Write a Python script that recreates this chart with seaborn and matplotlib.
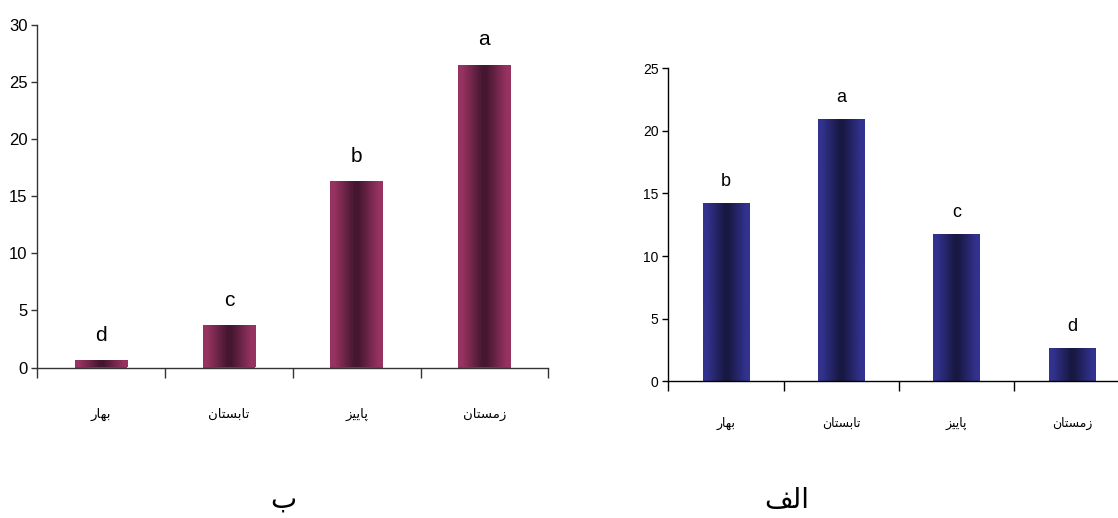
import numpy as np
import pandas as pd
import matplotlib
matplotlib.use("Agg")
import matplotlib.pyplot as plt
from matplotlib.colors import LinearSegmentedColormap
import seaborn as sns

# ---------------- data ----------------
seasons = ["بهار", "تابستان", "پاییز", "زمستان"]
values_b = [0.65, 3.72, 16.33, 26.5]      # left panel (ب)
letters_b = ["d", "c", "b", "a"]
values_alef = [14.23, 20.94, 11.76, 2.65]  # right panel (الف)
letters_alef = ["b", "a", "c", "d"]
panel_labels = ["ب", "الف"]
yticks_b = [0, 5, 10, 15, 20, 25, 30]
yticks_alef = [0, 5, 10, 15, 20, 25]

# ---------------- minimal Arabic/Persian shaping ----------------
FORMS = {
    'ا': ('\uFE8D', '\uFE8E', None, None),
    'ب': ('\uFE8F', '\uFE90', '\uFE91', '\uFE92'),
    'پ': ('\uFB56', '\uFB57', '\uFB58', '\uFB59'),
    'ت': ('\uFE95', '\uFE96', '\uFE97', '\uFE98'),
    'ر': ('\uFEAD', '\uFEAE', None, None),
    'ز': ('\uFEAF', '\uFEB0', None, None),
    'س': ('\uFEB1', '\uFEB2', '\uFEB3', '\uFEB4'),
    'ف': ('\uFED1', '\uFED2', '\uFED3', '\uFED4'),
    'ل': ('\uFEDD', '\uFEDE', '\uFEDF', '\uFEE0'),
    'م': ('\uFEE1', '\uFEE2', '\uFEE3', '\uFEE4'),
    'ن': ('\uFEE5', '\uFEE6', '\uFEE7', '\uFEE8'),
    'ه': ('\uFEE9', '\uFEEA', '\uFEEB', '\uFEEC'),
    'ی': ('\uFBFC', '\uFBFD', '\uFBFE', '\uFBFF'),
}


def shape(word):
    out = []
    n = len(word)
    for i, ch in enumerate(word):
        f = FORMS.get(ch)
        if f is None:
            out.append(ch)
            continue
        prev = FORMS.get(word[i - 1]) if i > 0 else None
        nxt = FORMS.get(word[i + 1]) if i < n - 1 else None
        jp = prev is not None and prev[2] is not None
        jn = nxt is not None and f[2] is not None
        if jp and jn:
            out.append(f[3])
        elif jp:
            out.append(f[1])
        elif jn:
            out.append(f[2])
        else:
            out.append(f[0])
    return "".join(out[::-1])


sns.set_style("ticks")
plt.rcParams['font.family'] = ['Liberation Sans Narrow', 'Liberation Sans', 'DejaVu Sans']
plt.rcParams['text.color'] = 'black'
plt.rcParams['xtick.labelcolor'] = 'black'
plt.rcParams['ytick.labelcolor'] = 'black'
ARAB = ['DejaVu Sans']

W, H = 1118, 518
fig = plt.figure(figsize=(W / 100, H / 100), dpi=100)


def px_axes(x0, x1, y_top, y_bot):
    return fig.add_axes([x0 / W, 1 - y_bot / H, (x1 - x0) / W, (y_bot - y_top) / H])


def gradient_bars(ax, edge, dark):
    cmap = LinearSegmentedColormap.from_list("g", [(0, edge), (0.08, edge), (0.47, dark),
                                                   (0.53, dark), (0.92, edge), (1, edge)])
    grad = np.linspace(0, 1, 256).reshape(1, -1)
    for p in list(ax.patches):
        x0, y0 = p.get_x(), p.get_y()
        w, h = p.get_width(), p.get_height()
        im = ax.imshow(grad, cmap=cmap, aspect='auto',
                       extent=(x0, x0 + w, y0, y0 + h), zorder=p.get_zorder() + 0.1,
                       interpolation='bicubic')
        im.set_clip_path(p)


def style(ax, yticks, ymax, tick_fs, lab_fs, lab_pad, spine_col):
    ax.set_xlim(-0.5, 3.5)
    ax.set_ylim(0, ymax)
    ax.set_yticks(yticks)
    ax.set_yticklabels([str(t) for t in yticks], fontsize=tick_fs)
    ax.set_xticks([-0.5, 0.5, 1.5, 2.5, 3.5])
    ax.set_xticklabels([])
    ax.set_xticks([0, 1, 2, 3], minor=True)
    ax.set_xticklabels([shape(s) for s in seasons], minor=True,
                       fontsize=lab_fs, family=ARAB)
    ax.tick_params(axis='x', which='minor', length=0, pad=lab_pad)
    ax.tick_params(axis='x', which='major', length=7, width=1, color=spine_col)
    ax.tick_params(axis='y', length=4, width=1, pad=3, color=spine_col)
    for s in ['top', 'right']:
        ax.spines[s].set_visible(False)
    for s in ['left', 'bottom']:
        ax.spines[s].set_color(spine_col)
        ax.spines[s].set_linewidth(1)
    ax.set_xlabel("")
    ax.set_ylabel("")
    ax.set_facecolor('white')


# ---------------- left panel (ب) ----------------
axL = px_axes(37.3, 548.3, 25, 367.5)
dfL = pd.DataFrame({"season": seasons, "value": values_b})
sns.barplot(data=dfL, x="season", y="value", order=seasons, color="#93305E",
            width=0.41, saturation=1, ax=axL, linewidth=0)
gradient_bars(axL, "#973361", "#44162F")
style(axL, yticks_b, 30, 12, 9.5, 29, "#333333")
for i, (v, l) in enumerate(zip(values_b, letters_b)):
    axL.annotate(l, (i, v), xytext=(0, 18), textcoords='offset points',
                 ha='center', va='center', fontsize=15)

# ---------------- right panel (الف) ----------------
axR = px_axes(668.3, 1129.5, 68.3, 381.2)
dfR = pd.DataFrame({"season": seasons, "value": values_alef})
sns.barplot(data=dfR, x="season", y="value", order=seasons, color="#30308F",
            width=0.405, saturation=1, ax=axR, linewidth=0)
gradient_bars(axR, "#32328F", "#181842")
style(axR, yticks_alef, 25, 10, 9, 26, "black")
for i, (v, l) in enumerate(zip(values_alef, letters_alef)):
    axR.annotate(l, (i, v), xytext=(0, 15.5), textcoords='offset points',
                 ha='center', va='center', fontsize=13)

# panel labels
fig.text(283 / W, 1 - 500 / H, shape(panel_labels[0]), ha='center', va='center',
         fontsize=20, family=ARAB)
fig.text(787 / W, 1 - 500 / H, shape(panel_labels[1]), ha='center', va='center',
         fontsize=20, family=ARAB)

fig.savefig("out.png", dpi=100, facecolor='white')
